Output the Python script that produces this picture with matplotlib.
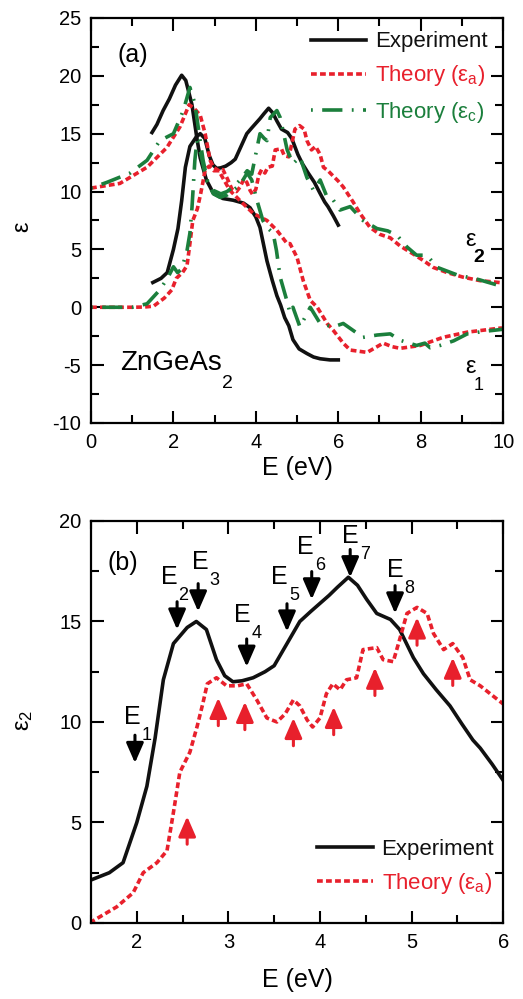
import numpy as np
import matplotlib
matplotlib.use('Agg')
import matplotlib.pyplot as plt
from matplotlib.ticker import MultipleLocator

plt.rcParams['font.family'] = ['Liberation Sans', 'DejaVu Sans']
plt.rcParams['mathtext.fontset'] = 'custom'
plt.rcParams['mathtext.rm'] = 'Liberation Sans'
plt.rcParams['mathtext.it'] = 'Liberation Sans:italic'
plt.rcParams['mathtext.default'] = 'regular'
plt.rcParams['axes.unicode_minus'] = False

# ---------------- data ----------------
# Experiment eps2
exp_E2 = [1.5, 1.7, 1.85, 2.0, 2.11, 2.2, 2.29, 2.4, 2.55, 2.65, 2.76, 2.87, 2.96, 3.05, 3.15,
          3.27, 3.4, 3.5, 3.64, 3.78, 3.9, 4.0, 4.1, 4.19, 4.31, 4.41, 4.51, 4.62, 4.77, 4.87,
          5.02, 5.13, 5.27, 5.42, 5.55, 5.67, 5.75, 5.88, 6.0]
exp_eps2 = [2.14, 2.5, 3.0, 5.0, 6.8, 9.2, 12.1, 13.9, 14.7, 15.0, 14.6, 13.1, 12.3, 12.0, 12.05,
            12.2, 12.5, 12.8, 13.9, 15.0, 15.5, 15.9, 16.3, 16.7, 17.2, 16.8, 16.1, 15.4, 15.1, 14.6,
            13.2, 12.4, 11.6, 10.8, 9.9, 9.1, 8.7, 7.9, 7.1]
# Experiment eps1
exp_E1 = [1.48, 1.6, 1.75, 1.9, 2.05, 2.2, 2.3, 2.45, 2.57, 2.65, 2.8, 2.97, 3.2, 3.45, 3.7,
          3.86, 4.0, 4.1, 4.27, 4.4, 4.51, 4.6, 4.7, 4.8, 4.9, 5.05, 5.24, 5.4, 5.56, 5.8, 6.0]
exp_eps1 = [15.1, 15.8, 17.0, 18.0, 19.2, 20.05, 19.6, 17.5, 14.6, 12.9, 11.0, 9.85, 9.4, 9.25, 9.0,
            8.6, 7.8, 6.9, 4.0, 2.3, 1.0, 0.2, -0.9, -1.6, -2.8, -3.6, -4.0, -4.3, -4.45, -4.55, -4.55]
# Theory (eps_a) eps2
tha_E2 = [0.0, 0.5, 1.0, 1.3, 1.52, 1.78, 1.96, 2.07, 2.22, 2.33, 2.40, 2.47, 2.58, 2.66, 2.72,
          2.77, 2.87, 2.98, 3.1, 3.2, 3.31, 3.42, 3.53, 3.62, 3.71, 3.78, 3.86, 3.92, 4.0, 4.07,
          4.14, 4.22, 4.29, 4.4, 4.47, 4.62, 4.69, 4.8, 4.87, 4.95, 5.06, 5.17, 5.24, 5.35, 5.45,
          5.56, 5.64, 5.75, 5.86, 6.0, 6.12, 6.36, 6.53, 6.77, 7.01, 7.26, 7.5, 7.82, 8.06, 8.3,
          8.64, 9.03, 9.44, 9.88, 10.0]
tha_eps2 = [0.0, 0.0, 0.0, 0.02, 0.1, 0.8, 1.5, 2.5, 3.0, 3.6, 5.5, 7.5, 8.5, 9.8, 10.9,
            11.9, 12.2, 11.8, 11.8, 11.9, 11.1, 10.2, 10.0, 10.4, 11.1, 10.8, 10.1, 9.75, 10.2, 11.4,
            11.9, 11.6, 12.1, 12.2, 13.6, 13.7, 13.1, 13.0, 14.1, 15.4, 15.7, 15.4, 14.4, 13.6, 13.9,
            13.2, 12.1, 11.8, 11.4, 10.9, 10.4, 9.1, 8.1, 6.9, 6.3, 6.0, 5.3, 4.6, 4.05, 3.45,
            3.0, 2.6, 2.3, 2.15, 2.1]
# Theory (eps_a) eps1
tha_E1 = [0.0, 0.7, 1.36, 1.84, 2.16, 2.38, 2.5, 2.65, 2.77, 2.89, 2.97, 3.1, 3.37, 3.62, 3.94,
          4.27, 4.51, 4.76, 4.83, 5.0, 5.15, 5.32, 5.49, 5.73, 5.88, 6.12, 6.29, 6.7, 7.09, 7.3,
          7.5, 7.99, 8.54, 9.13, 9.93, 10.0]
tha_eps1 = [10.3, 10.7, 12.1, 13.8, 15.6, 17.5, 17.2, 16.6, 15.0, 12.7, 12.1, 11.8, 10.1, 9.2, 8.1,
            7.5, 6.65, 5.5, 5.5, 4.3, 2.3, 0.6, 0.0, -1.4, -2.0, -3.1, -3.7, -3.9, -3.1, -3.4,
            -3.55, -3.3, -2.6, -2.15, -1.8, -1.8]
# Theory (eps_c) eps2
thc_E2 = [0.0, 1.0, 1.36, 1.67, 1.87, 2.0, 2.1, 2.2, 2.33, 2.4, 2.45, 2.52, 2.57, 2.65, 2.8,
          2.97, 3.15, 3.3, 3.45, 3.62, 3.79, 3.9, 4.03, 4.1, 4.2, 4.27, 4.35, 4.51, 4.59, 4.76,
          4.9, 5.07, 5.24, 5.4, 5.56, 5.73, 5.88, 6.04, 6.29, 6.6, 6.94, 7.2, 7.43, 7.67, 7.9,
          8.15, 8.4, 8.88, 9.4, 9.88, 10.0]
thc_eps2 = [0.0, 0.0, 0.3, 1.5, 2.6, 3.5, 3.0, 3.3, 4.9, 6.4, 8.6, 12.7, 14.4, 13.5, 11.0,
            10.1, 9.8, 10.0, 10.4, 11.0, 11.8, 11.5, 13.8, 15.0, 14.6, 14.4, 16.4, 17.0, 16.4, 13.6,
            12.4, 13.0, 11.2, 10.1, 11.0, 9.5, 9.25, 8.4, 8.7, 7.5, 6.8, 6.6, 6.2, 5.2, 4.5,
            4.5, 3.45, 2.8, 2.4, 1.9, 1.8]
# Theory (eps_c) eps1
thc_E1 = [0.0, 0.39, 0.95, 1.36, 1.67, 2.0, 2.24, 2.4, 2.52, 2.6, 2.72, 2.84, 2.97, 3.13, 3.3,
          3.45, 3.62, 3.79, 3.9, 4.03, 4.17, 4.27, 4.42, 4.5, 4.59, 4.75, 4.83, 4.9, 5.07, 5.32,
          5.56, 5.88, 6.12, 6.36, 6.6, 6.94, 7.26, 7.5, 7.9, 8.1, 8.23, 8.47, 8.8, 9.13, 9.5, 10.0]
thc_eps1 = [10.3, 10.8, 11.6, 12.7, 14.4, 15.0, 17.0, 19.0, 17.6, 15.6, 12.7, 10.7, 9.8, 9.5, 9.7,
            10.1, 10.6, 11.6, 11.0, 9.2, 7.5, 6.9, 6.4, 4.9, 2.6, 0.6, -0.5, 0.0, -1.7, 0.0,
            -1.4, -1.7, -1.4, -2.0, -2.6, -2.4, -2.3, -2.85, -3.3, -3.1, -3.5, -3.3, -2.9, -2.3, -2.1, -1.9]

# Transitions (experiment, black arrows)
trans_names = ['1', '2', '3', '4', '5', '6', '7', '8']
trans_E = [1.98, 2.44, 2.67, 3.20, 3.64, 3.91, 4.33, 4.82]
trans_tip = [7.96, 14.6, 15.5, 12.75, 14.5, 16.1, 17.2, 15.4]
trans_lab_E = [1.95, 2.35, 2.69, 3.15, 3.56, 3.84, 4.33, 4.82]
trans_lab_y = [10.25, 17.2, 17.96, 15.3, 17.2, 18.7, 19.25, 17.56]
# Theory peaks (red arrows)
theo_arrow_E = [2.55, 2.89, 3.18, 3.71, 4.15, 4.60, 5.06, 5.45]
theo_arrow_tip = [5.3, 11.2, 11.0, 10.2, 10.75, 12.7, 15.2, 13.2]

# ---------------- style ----------------
BLACK = '#111111'
RED = '#e8202c'
GREEN = '#1b7f3c'
LW = 2.6
red_dash = (1.6, 0.9)
green_dash = (0.5, 2.6, 5.6, 2.6)

fig = plt.figure(figsize=(5.23, 9.99), dpi=100)
ax1 = fig.add_axes([0.174, 0.5766, 0.788, 0.4054])
ax2 = fig.add_axes([0.174, 0.0761, 0.788, 0.4024])

def style_axes(ax):
    for s in ax.spines.values():
        s.set_linewidth(1.6)
    ax.tick_params(which='both', direction='in', top=True, right=True, width=1.5,
                   labelsize=14.5, pad=7)
    ax.tick_params(which='major', length=9)
    ax.tick_params(which='minor', length=5.5)

# ---------- panel (a) ----------
ax1.plot(exp_E2, exp_eps2, color=BLACK, lw=LW, label='Experiment')
ax1.plot(exp_E1, exp_eps1, color=BLACK, lw=LW)
ax1.plot(tha_E2, tha_eps2, color=RED, lw=LW, dashes=red_dash, label='Theory (ε$_{a}$)')
ax1.plot(tha_E1, tha_eps1, color=RED, lw=LW, dashes=red_dash)
ax1.plot(thc_E2, thc_eps2, color=GREEN, lw=LW, dashes=green_dash, label='Theory (ε$_{c}$)')
ax1.plot(thc_E1, thc_eps1, color=GREEN, lw=LW, dashes=green_dash)
ax1.set_xlim(0, 10)
ax1.set_ylim(-10, 25)
ax1.xaxis.set_major_locator(MultipleLocator(2))
ax1.xaxis.set_minor_locator(MultipleLocator(1))
ax1.yaxis.set_major_locator(MultipleLocator(5))
ax1.yaxis.set_minor_locator(MultipleLocator(2.5))
style_axes(ax1)
ax1.set_xlabel('E (eV)', fontsize=18)
ax1.set_ylabel('ε', fontsize=17)
ax1.xaxis.set_label_coords(0.5, -0.082)
ax1.yaxis.set_label_coords(-0.14, 0.484)
leg1 = ax1.legend(loc='upper right', bbox_to_anchor=(0.995, 1.0), frameon=False, fontsize=16,
                  handlelength=2.5, handletextpad=0.4, labelspacing=0.5, borderaxespad=0.2)
for t, c in zip(leg1.get_texts(), [BLACK, RED, GREEN]):
    t.set_color(c)
ax1.text(1.02, 21.8, '(a)', fontsize=18, ha='center', va='center')
ax1.text(0.7, -4.85, 'ZnGeAs', fontsize=20, ha='left', va='center')
ax1.text(3.3, -6.6, '2', fontsize=14, ha='center', va='center')
ax1.text(9.2, 5.8, 'ε', fontsize=17, ha='center', va='center')
ax1.text(9.4, 4.3, '2', fontsize=14, ha='center', va='center', fontweight='bold')
ax1.text(9.2, -5.2, 'ε', fontsize=17, ha='center', va='center')
ax1.text(9.4, -6.75, '1', fontsize=13, ha='center', va='center')

# ---------- panel (b) ----------
ax2.plot(exp_E2, exp_eps2, color=BLACK, lw=LW, label='Experiment')
ax2.plot(tha_E2, tha_eps2, color=RED, lw=LW, dashes=red_dash, label='Theory (ε$_{a}$)')
ax2.set_xlim(1.5, 6)
ax2.set_ylim(0, 20)
ax2.xaxis.set_major_locator(MultipleLocator(1))
ax2.xaxis.set_minor_locator(MultipleLocator(0.5))
ax2.yaxis.set_major_locator(MultipleLocator(5))
ax2.yaxis.set_minor_locator(MultipleLocator(2.5))
style_axes(ax2)
ax2.set_xlabel('E (eV)', fontsize=18)
ax2.set_ylabel('ε$_2$', fontsize=17)
ax2.xaxis.set_label_coords(0.5, -0.112)
ax2.yaxis.set_label_coords(-0.135, 0.505)
leg2 = ax2.legend(loc='lower right', bbox_to_anchor=(1.0, 0.045), frameon=False, fontsize=16,
                  handlelength=2.5, handletextpad=0.4, labelspacing=0.5, borderaxespad=0.0)
for t, c in zip(leg2.get_texts(), [BLACK, RED]):
    t.set_color(c)
ax2.text(1.85, 17.9, '(b)', fontsize=18, ha='center', va='center')

ARROW_LEN = 20  # points
for name, x, tip, lx, ly in zip(trans_names, trans_E, trans_tip, trans_lab_E, trans_lab_y):
    ax2.annotate('', xy=(x, tip), xytext=(0, ARROW_LEN), textcoords='offset points',
                 arrowprops=dict(arrowstyle='-|>,head_length=0.55,head_width=0.24',
                                 color='black', lw=2.2, mutation_scale=22,
                                 shrinkA=0, shrinkB=0))
    ax2.text(lx, ly, 'E', fontsize=18, ha='center', va='center')
    ax2.annotate(name, xy=(lx, ly), xytext=(10.5, -13), textcoords='offset points',
                 fontsize=13, ha='center', va='center')
for x, tip in zip(theo_arrow_E, theo_arrow_tip):
    ax2.annotate('', xy=(x, tip), xytext=(0, -ARROW_LEN), textcoords='offset points',
                 arrowprops=dict(arrowstyle='-|>,head_length=0.55,head_width=0.24',
                                 color=RED, lw=2.2, mutation_scale=22,
                                 shrinkA=0, shrinkB=0))

fig.savefig('out.png', dpi=100)
